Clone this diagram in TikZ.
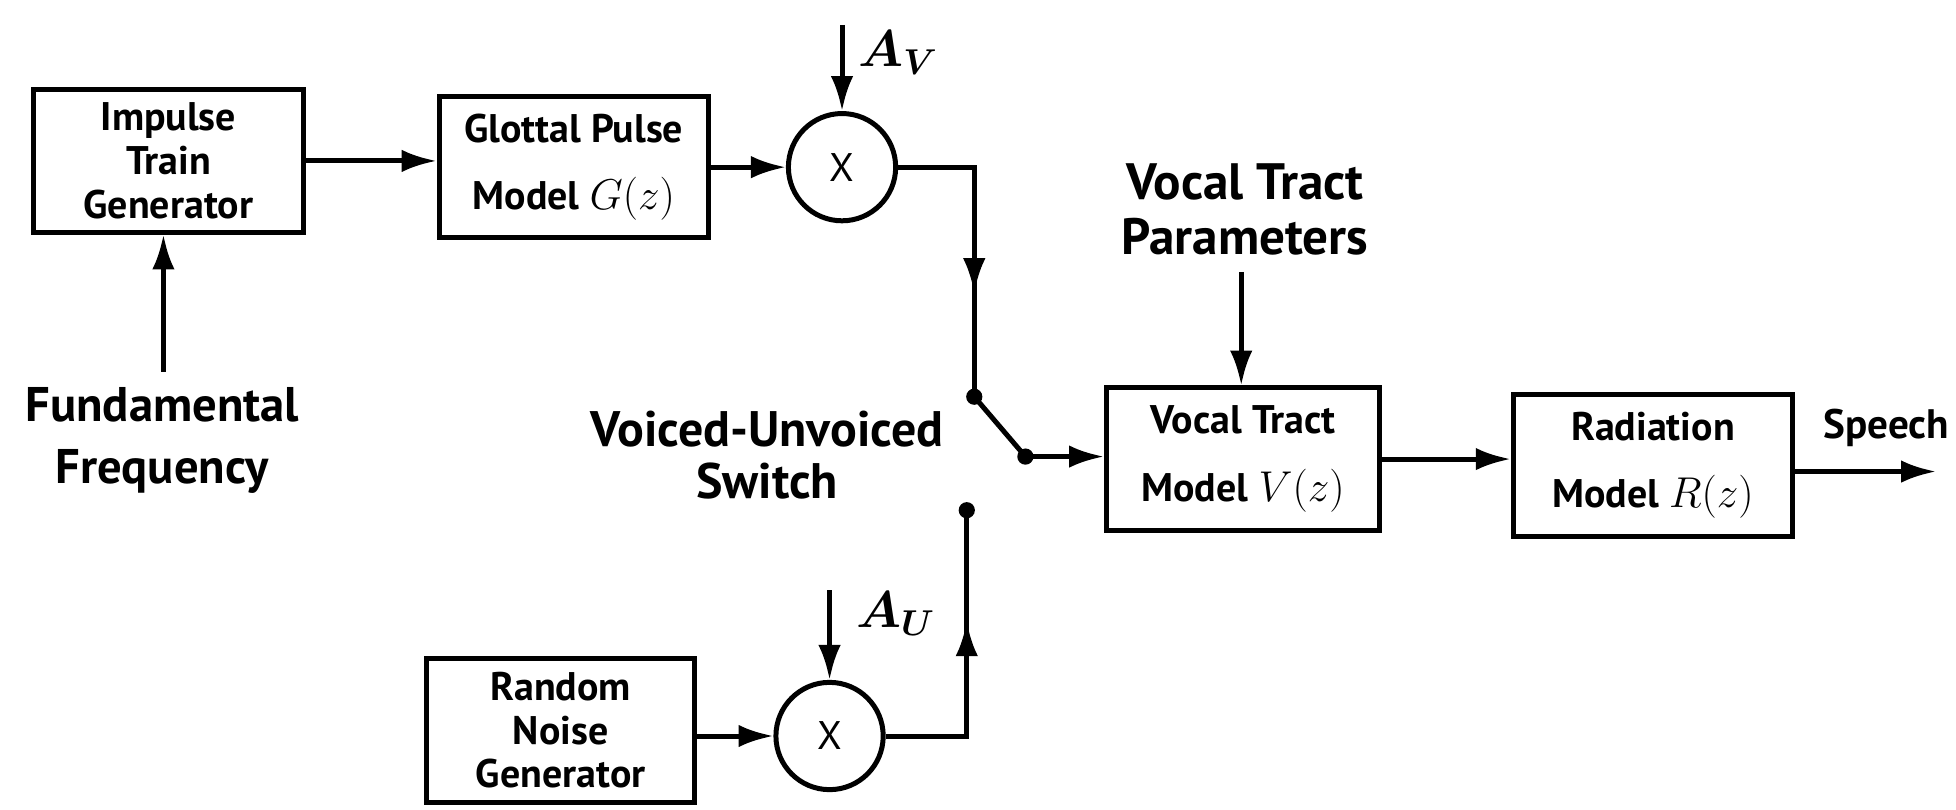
\documentclass[tikz,border=0pt]{standalone}
\usepackage{fontspec}
\setmainfont{PT Sans}
\usetikzlibrary{arrows.meta}
\begin{document}
\begin{tikzpicture}[x=0.5pt,y=-0.5pt,
  box/.style={draw, line width=2pt, align=center, inner sep=0pt, font=\fontsize{16}{17.5}\selectfont\bfseries},
  boxtwo/.style={box, font=\fontsize{16}{27}\selectfont\bfseries},
  mult/.style={draw, circle, line width=2pt, minimum size=43pt, inner sep=0pt, font=\fontsize{16}{16}\selectfont},
  wire/.style={line width=2pt},
  arr/.style={wire, -{Latex[length=14pt,width=9pt]}},
  lbl/.style={align=center, inner sep=0pt, font=\fontsize{19.5}{25}\selectfont\bfseries},
  mlbl/.style={inner sep=0pt, font=\fontsize{22}{22}\selectfont\boldmath},
  dot/.style={circle, fill, inner sep=0pt, minimum size=6.5pt}
]
\useasboundingbox (0,0) rectangle (1568,649);

% blocks
\node[box, minimum width=108pt, minimum height=57pt] (imp) at (135,129) {Impulse\\Train\\Generator};
\node[boxtwo, minimum width=108pt, minimum height=56.5pt] (glot) at (460,134) {Glottal Pulse\\Model {\fontsize{19}{19}\selectfont$G(z)$}};
\node[mult] (mV) at (675,134) {X};
\node[box, minimum width=107.5pt, minimum height=57.5pt] (noise) at (449.5,585.5) {Random\\Noise\\Generator};
\node[mult] (mU) at (665,590) {X};
\node[boxtwo, minimum width=109.5pt, minimum height=57pt] (vt) at (996.5,368) {Vocal Tract\\Model {\fontsize{19}{19}\selectfont$V(z)$}};
\node[boxtwo, minimum width=112pt, minimum height=57pt] (rad) at (1325,373) {Radiation\\Model {\fontsize{19}{19}\selectfont$R(z)$}};

% labels
\node[lbl] (ff) at (130,353) {Fundamental\\Frequency};
\node[lbl, font=\fontsize{20}{21}\selectfont\bfseries] (vus) at (615,365) {Voiced-Unvoiced\\Switch};
\node[lbl, font=\fontsize{20.5}{22}\selectfont\bfseries] (vtp) at (998,168) {Vocal Tract\\Parameters};
\node[mlbl] (av) at (720,42) {$A_V$};
\node[mlbl] (au) at (718,492) {$A_U$};
\node[inner sep=0pt, font=\fontsize{16.5}{16.5}\selectfont\bfseries] (sp) at (1512,343) {Speech};

% switch points
\node[dot] (swv) at (781,318) {};
\node[dot] (swp) at (822,366) {};
\node[dot] (swu) at (775,409) {};

% coordinates
\coordinate (avtop) at (675,20);
\coordinate (autop) at (665,473);
\coordinate (fftop) at (131,298);
\coordinate (vtptop) at (995,218);
\coordinate (midV) at (781,235);
\coordinate (midU) at (775,498);
\coordinate (spend) at (1552,378);

% connectors
\draw[arr] (imp.east) -- (imp.east -| glot.west);
\draw[arr] (glot.east) -- (mV.west);
\draw[arr] (avtop) -- (mV.north);
\draw[wire] (mV.east) -| (swv.center);
\draw[arr] (mV.east) -| (midV);
\draw[wire] (swv.center) -- (swp.center);
\draw[arr] (swp.center) -- (swp -| vt.west);
\draw[arr] (noise.east |- mU) -- (mU.west);
\draw[arr] (autop) -- (mU.north);
\draw[wire] (mU.east) -| (swu.center);
\draw[arr] (mU.east) -| (midU);
\draw[arr] (fftop) -- (fftop |- imp.south);
\draw[arr] (vtptop) -- (vtptop |- vt.north);
\draw[arr] (vt.east) -- (vt.east -| rad.west);
\draw[arr] (rad.east |- spend) -- (spend);
\end{tikzpicture}
\end{document}
